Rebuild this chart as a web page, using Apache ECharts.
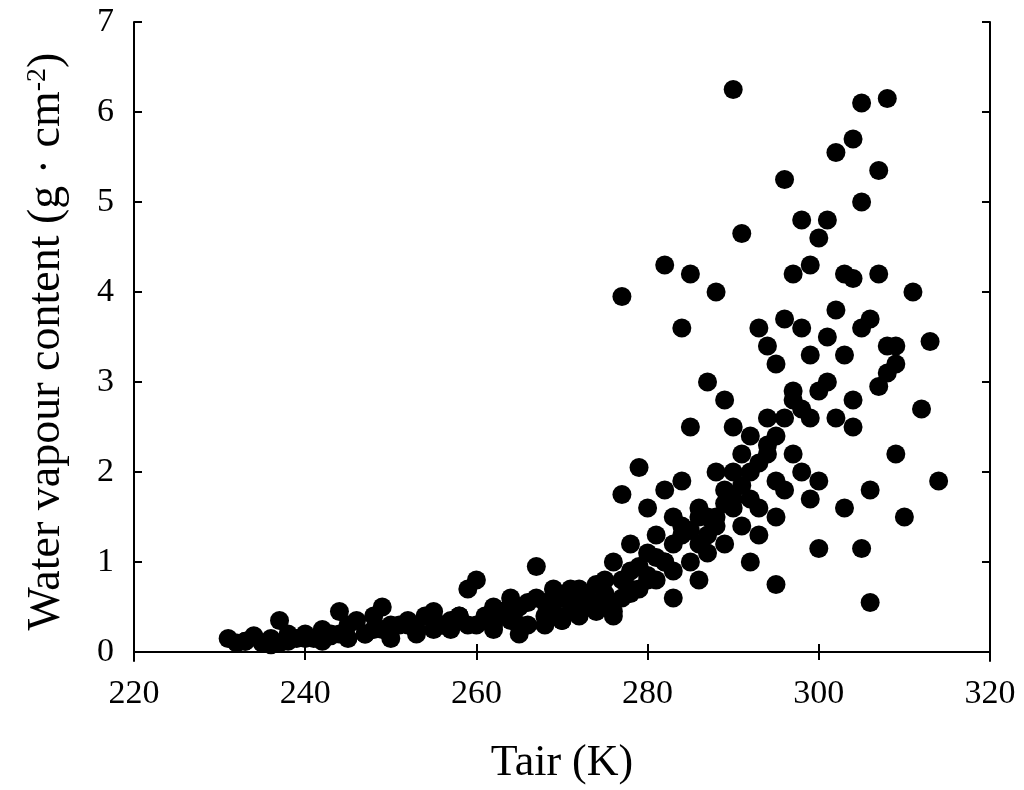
<!DOCTYPE html>
<html>
<head>
<meta charset="utf-8">
<script src="https://cdn.jsdelivr.net/npm/echarts@6/dist/echarts.min.js"></script>
<style>html,body{margin:0;padding:0;background:#fff}#main{width:1024px;height:790px}</style>
</head>
<body>
<div id="main"></div>
<script>
// 气温 (K)
var tair = [231,232,233,234,235,236,236,237,238,238,239,240,241,242,243,244,244,245,246,247,248,249,249,250,251,252,253,254,255,256,257,258,259,259,260,261,262,263,264,265,265,266,267,267,268,269,270,271,272,272,273,274,275,276,276,277,277,278,278,279,280,280,281,282,282,283,283,284,284,285,285,286,286,287,287,288,288,289,289,290,290,290,291,291,292,292,293,293,294,294,295,295,295,296,296,296,297,297,298,298,298,299,299,300,300,300,301,301,302,302,303,303,304,304,304,305,305,305,306,306,307,307,308,308,309,309,310,311,312,313,314,
  233,235,237,240,242,245,247,250,253,255,257,260,262,264,266,268,270,271,273,274,275,277,279,281,283,285,287,289,291,293,295,297,299,301,303,305,307,309,
  262,265,268,270,272,274,276,278,280,282,284,286,288,290,292,294,296,298,300,302,304,306,308,
  269,271,273,275,277,279,281,283,285,287,289,291,293,295,297,299,278,280,282,284,286,288,290,292,294,243,248,252,256,258,261,263];
// 水汽含量 (g·cm-2)
var wvc = [0.15,0.1,0.12,0.18,0.1,0.08,0.15,0.35,0.12,0.2,0.15,0.2,0.15,0.25,0.18,0.45,0.2,0.3,0.35,0.2,0.4,0.25,0.5,0.3,0.3,0.35,0.25,0.4,0.45,0.3,0.35,0.4,0.3,0.7,0.8,0.4,0.5,0.45,0.6,0.5,0.3,0.55,0.6,0.95,0.55,0.7,0.6,0.7,0.7,0.5,0.6,0.75,0.8,1.0,0.4,1.75,3.95,1.2,0.9,2.05,1.1,1.6,1.3,4.3,1.8,1.5,0.6,3.6,1.9,4.2,2.5,1.5,0.8,3.0,1.3,4.0,2.0,1.8,2.8,6.25,2.5,1.6,4.65,2.2,1.0,2.4,3.6,1.3,3.4,2.3,3.2,1.5,0.75,5.25,3.7,2.6,4.2,2.9,4.8,3.6,2.0,4.3,1.7,4.6,2.9,1.15,4.8,3.5,5.55,2.6,4.2,1.6,5.7,2.8,4.15,6.1,5.0,1.15,3.7,0.55,5.35,2.95,6.15,3.4,2.2,3.2,1.5,4.0,2.7,3.45,1.9,
  0.12,0.1,0.1,0.15,0.12,0.15,0.2,0.15,0.2,0.25,0.25,0.3,0.3,0.35,0.3,0.4,0.35,0.45,0.5,0.45,0.55,0.6,0.7,0.8,0.9,1.0,1.1,1.2,1.4,1.6,1.9,2.2,2.6,3.0,3.3,3.6,4.2,3.4,
  0.25,0.2,0.3,0.35,0.4,0.5,0.45,0.65,0.8,1.0,1.3,1.2,1.5,1.7,2.0,2.2,1.8,2.7,1.9,3.8,2.5,1.8,3.1,
  0.45,0.55,0.5,0.65,0.8,0.95,1.05,1.2,1.35,1.5,1.65,1.85,2.1,2.4,2.8,3.3,0.7,0.85,1.0,1.4,1.6,1.4,2.0,1.7,2.6,0.2,0.25,0.3,0.3,0.4,0.35,0.45];

var pts = [];
for (var i = 0; i < tair.length; i++) pts.push([tair[i], wvc[i]]);

var font = '"Liberation Serif", "DejaVu Serif", serif';
var myChart = echarts.init(document.getElementById('main'));
var option = {
    backgroundColor: '#fff',
    animation: false,
    grid: {left: 134, right: 34, top: 22, bottom: 128},
    xAxis: [{
        type: 'value', min: 220, max: 320, interval: 20,
        axisLine: {lineStyle: {color: '#000', width: 2}},
        axisTick: {inside: true, length: 8, lineStyle: {color: '#000', width: 2}},
        axisLabel: {color: '#000', fontSize: 34, fontFamily: font, margin: 16},
        splitLine: {show: false},
        name: 'Tair (K)', nameLocation: 'middle', nameGap: 80,
        nameTextStyle: {color: '#000', fontSize: 44, fontFamily: font}
    }, {
        type: 'value', position: 'top', min: 220, max: 320, interval: 20,
        axisLine: {show: true, lineStyle: {color: '#000', width: 2}},
        axisTick: {inside: true, length: 8, lineStyle: {color: '#000', width: 2}},
        axisLabel: {show: false}, splitLine: {show: false}
    }],
    yAxis: [{
        type: 'value', min: -0.1, max: 7,
        axisLine: {show: true, lineStyle: {color: '#000', width: 2}},
        axisTick: {inside: true, length: 8, customValues: [0,1,2,3,4,5,6,7], lineStyle: {color: '#000', width: 2}},
        axisLabel: {color: '#000', fontSize: 34, fontFamily: font, margin: 20, customValues: [0,1,2,3,4,5,6,7]},
        splitLine: {show: false},
        name: 'Water vapour content (g · cm{sup|-2})', nameLocation: 'middle', nameGap: 64,
        nameTextStyle: {color: '#000', fontSize: 46, fontFamily: font, rich: {sup: {fontSize: 28, fontFamily: font, verticalAlign: 'top', color: '#000'}}}
    }, {
        type: 'value', position: 'right', min: -0.1, max: 7,
        axisLine: {show: true, lineStyle: {color: '#000', width: 2}},
        axisTick: {inside: true, length: 8, customValues: [0,1,2,3,4,5,6,7], lineStyle: {color: '#000', width: 2}},
        axisLabel: {show: false}, splitLine: {show: false}
    }],
    series: [{
        type: 'scatter', data: pts, symbolSize: 19,
        itemStyle: {color: '#000', opacity: 1}
    }]
};
myChart.setOption(option);
</script>
</body>
</html>
